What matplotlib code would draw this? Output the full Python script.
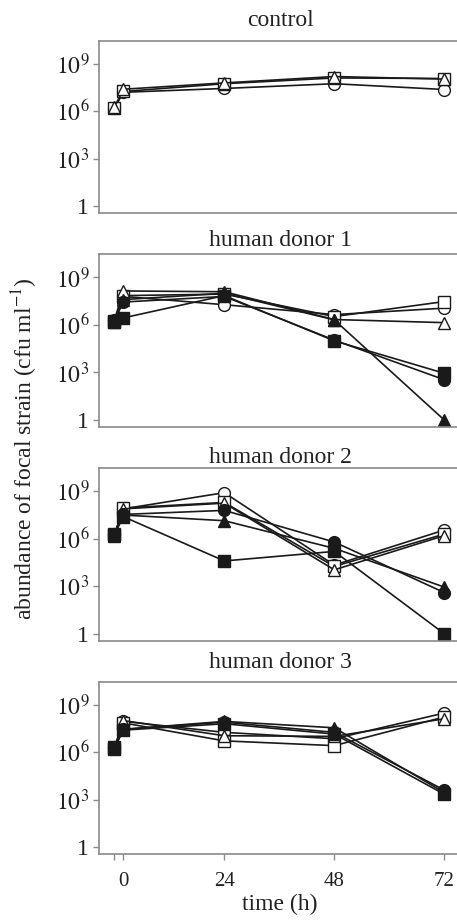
import matplotlib
matplotlib.use('Agg')
import matplotlib.pyplot as plt

plt.rcParams['font.family'] = ['Liberation Serif', 'DejaVu Serif']
plt.rcParams['mathtext.fontset'] = 'stix'

# sampling times (h); the second sample is the one labelled 0
times = [0, 2, 24, 48, 72]
time_ticks = [0, 2, 24, 48, 72]
time_labels = ['', '0', '24', '48', '72']

y_ticks = [1, 1e3, 1e6, 1e9]
y_labels = ['1', '$10^3$', '$10^6$', '$10^9$']

panel_titles = ['control', 'human donor 1', 'human donor 2', 'human donor 3']

# control (open symbols only)
ctrl_open_circle = [1.6e6, 1.6e7, 2.8e7, 5.6e7, 2.4e7]
ctrl_open_square = [1.6e6, 1.8e7, 5.6e7, 1.3e8, 1.2e8]
ctrl_open_triangle = [1.8e6, 2.5e7, 6.3e7, 1.6e8, 1.1e8]

# human donor 1
d1_open_circle = [1.8e6, 6.3e7, 1.9e7, 4.5e6, 1.15e7]
d1_open_square = [1.6e6, 7.1e7, 8.9e7, 3.4e6, 3.0e7]
d1_open_triangle = [2.0e6, 1.4e8, 1.25e8, 2.2e6, 1.4e6]
d1_filled_circle = [2.0e6, 2.8e7, 6.3e7, 1.1e5, 3.5e2]
d1_filled_square = [1.8e6, 2.8e6, 7.1e7, 1.0e5, 8.9e2]
d1_filled_triangle = [1.6e6, 4.0e7, 1.0e8, 2.1e6, 1]

# human donor 2
d2_open_circle = [1.8e6, 7.9e7, 8.3e8, 2.2e4, 3.6e6]
d2_open_square = [1.8e6, 8.9e7, 2.0e8, 1.8e4, 2.0e6]
d2_open_triangle = [1.6e6, 7.9e7, 1.8e8, 1.1e4, 1.6e6]
d2_filled_circle = [2.0e6, 3.5e7, 6.3e7, 6.3e5, 4.0e2]
d2_filled_square = [2.0e6, 2.5e7, 4.0e4, 1.6e5, 1]
d2_filled_triangle = [1.8e6, 3.2e7, 1.4e7, 2.5e5, 8.9e2]

# human donor 3
d3_open_circle = [1.8e6, 8.9e7, 1.8e7, 7.1e6, 3.0e8]
d3_open_square = [1.6e6, 7.1e7, 5.2e6, 2.6e6, 1.7e8]
d3_open_triangle = [1.8e6, 1.0e8, 1.1e7, 1.0e7, 1.3e8]
d3_filled_circle = [2.0e6, 2.8e7, 7.9e7, 1.8e7, 4.0e3]
d3_filled_square = [2.0e6, 2.5e7, 6.3e7, 1.4e7, 2.2e3]
d3_filled_triangle = [1.8e6, 2.8e7, 8.9e7, 3.5e7, 2.8e3]

panels = [
    [('o', False, ctrl_open_circle), ('s', False, ctrl_open_square),
     ('^', False, ctrl_open_triangle)],
    [('o', False, d1_open_circle), ('s', False, d1_open_square),
     ('^', False, d1_open_triangle), ('o', True, d1_filled_circle),
     ('s', True, d1_filled_square), ('^', True, d1_filled_triangle)],
    [('o', False, d2_open_circle), ('s', False, d2_open_square),
     ('^', False, d2_open_triangle), ('o', True, d2_filled_circle),
     ('s', True, d2_filled_square), ('^', True, d2_filled_triangle)],
    [('o', False, d3_open_circle), ('s', False, d3_open_square),
     ('^', False, d3_open_triangle), ('o', True, d3_filled_circle),
     ('s', True, d3_filled_square), ('^', True, d3_filled_triangle)],
]

W, H = 457, 921
fig = plt.figure(figsize=(W / 100, H / 100), dpi=100)

# panel top/bottom edges in pixels from the top
panel_tops = [41, 254.3, 468.3, 681.7]
panel_bottoms = [213, 427.3, 641, 854.3]
title_pads = [10.8, 5.8, 3.6, 9.9]
ax_left, ax_right = 99, 462.6

spine_col = '#8a8a8a'
line_col = '#1a1a1a'

for i, series in enumerate(panels):
    top, bot = panel_tops[i], panel_bottoms[i]
    ax = fig.add_axes([ax_left / W, 1 - bot / H, (ax_right - ax_left) / W, (bot - top) / H])
    for marker, filled, vals in series:
        ax.plot(times, vals, color=line_col, lw=1.2, marker=marker, ms=8.5,
                mew=1.0, mec=line_col, mfc=line_col if filled else 'white')
    ax.set_yscale('log')
    ax.set_ylim(10 ** -0.46, 10 ** 10.46)
    ax.set_xlim(-3.34, 76)
    ax.set_yticks(y_ticks)
    ax.set_yticklabels(y_labels)
    ax.minorticks_off()
    ax.set_xticks(time_ticks)
    if i == 3:
        ax.set_xticklabels(time_labels)
        ax.tick_params(axis='x', length=4, width=1, color=spine_col, pad=9,
                       labelsize=15, labelcolor='#222222')
    else:
        ax.tick_params(axis='x', length=0, labelbottom=False)
    ax.tick_params(axis='y', length=4, width=1, color=spine_col, pad=3,
                   labelsize=17, labelcolor='#222222')
    for s in ax.spines.values():
        s.set_color(spine_col)
        s.set_linewidth(1.2)
    ax.set_title(panel_titles[i], fontsize=17, color='#222222', pad=title_pads[i])

fig.text(280 / W, 1 - 910 / H, 'time (h)', ha='center', va='baseline',
         fontsize=17, color='#222222')
fig.text(25 / W, 1 - 449 / H, 'abundance of focal strain (cfu ml$^{-1}$)',
         rotation=90, ha='center', va='center', fontsize=17, color='#222222')

fig.savefig('out.png', dpi=100)
